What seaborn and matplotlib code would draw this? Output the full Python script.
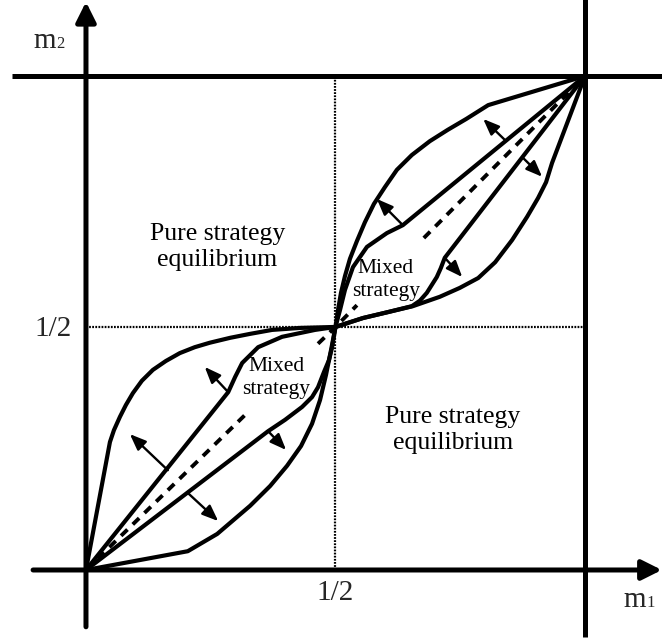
import numpy as np
import pandas as pd
import matplotlib
matplotlib.use("Agg")
import matplotlib.pyplot as plt
import seaborn as sns

sns.set_style("white")
plt.rcParams['font.family'] = ['Liberation Serif', 'DejaVu Serif']

# ---------------- data (m1, m2 in [0,1]) ----------------
half_x = 0.5
half_y = 0.492

ur_outer_upper_u = [0.5, 0.505, 0.511, 0.519, 0.529, 0.543, 0.559, 0.577, 0.599, 0.623, 0.653,
                    0.689, 0.725, 0.762, 0.806, 1.0]
ur_outer_upper_v = [0.492, 0.526, 0.561, 0.595, 0.630, 0.666, 0.704, 0.741, 0.775, 0.810, 0.840,
                    0.868, 0.891, 0.913, 0.941, 1.0]

ur_inner_upper_u = [0.5, 0.509, 0.519, 0.535, 0.563, 0.603, 0.635, 1.0]
ur_inner_upper_v = [0.492, 0.526, 0.567, 0.613, 0.654, 0.682, 0.698, 1.0]

ur_outer_lower_u = [0.5, 0.555, 0.605, 0.655, 0.709, 0.749, 0.786, 0.820, 0.854, 0.884, 0.906, 0.922, 0.934, 1.0]
ur_outer_lower_v = [0.492, 0.510, 0.522, 0.534, 0.553, 0.571, 0.591, 0.623, 0.668, 0.715, 0.753, 0.785, 0.824, 1.0]

ur_inner_lower_u = [0.5, 0.555, 0.605, 0.653, 0.669, 0.683, 0.703, 0.711, 0.719, 1.0]
ur_inner_lower_v = [0.492, 0.510, 0.522, 0.534, 0.545, 0.561, 0.593, 0.611, 0.632, 1.0]

ll_outer_upper_u = [0.0, 0.048, 0.056, 0.068, 0.080, 0.094, 0.112, 0.134, 0.160, 0.188, 0.218,
                    0.248, 0.289, 0.329, 0.373, 0.429, 0.5]
ll_outer_upper_v = [0.0, 0.259, 0.283, 0.310, 0.334, 0.358, 0.383, 0.405, 0.423, 0.439, 0.451,
                    0.460, 0.470, 0.478, 0.486, 0.490, 0.492]

ll_inner_upper_u = [0.0, 0.285, 0.299, 0.313, 0.345, 0.393, 0.459, 0.5]
ll_inner_upper_v = [0.0, 0.360, 0.391, 0.419, 0.451, 0.472, 0.486, 0.492]

ll_outer_lower_u = [0.0, 0.204, 0.263, 0.329, 0.369, 0.403, 0.431, 0.453, 0.469, 0.481, 0.491, 0.5]
ll_outer_lower_v = [0.0, 0.038, 0.073, 0.130, 0.170, 0.211, 0.251, 0.296, 0.344, 0.395, 0.445, 0.492]

ll_inner_lower_u = [0.0, 0.365, 0.399, 0.433, 0.453, 0.465, 0.477, 0.487, 0.493, 0.5]
ll_inner_lower_v = [0.0, 0.281, 0.304, 0.330, 0.350, 0.370, 0.401, 0.425, 0.450, 0.492]

# visible pieces of the dashed 45-degree line
diag_seg_u = [[0.0, 0.323], [0.465, 0.5, 0.543], [0.677, 1.0]]
diag_seg_v = [[0.0, 0.318], [0.458, 0.492, 0.536], [0.672, 1.0]]

# small direction arrows (tail -> tip)
arrow_tail_u = [0.635, 0.840, 0.719, 0.876, 0.285, 0.164, 0.365, 0.204]
arrow_tail_v = [0.698, 0.870, 0.632, 0.834, 0.360, 0.202, 0.281, 0.156]
arrow_tip_u = [0.583, 0.796, 0.754, 0.914, 0.238, 0.088, 0.401, 0.265]
arrow_tip_v = [0.751, 0.913, 0.593, 0.796, 0.411, 0.275, 0.243, 0.099]

region_labels = ["Pure strategy\nequilibrium", "Pure strategy\nequilibrium",
                 "Mixed\nstrategy", "Mixed\nstrategy"]
region_u = [0.263, 0.735, 0.601, 0.381]
region_v = [0.654, 0.283, 0.587, 0.389]
region_size = [18.5, 18.5, 15.5, 15.5]

tick_label = "1/2"

# ---------------- figure ----------------
fig = plt.figure(figsize=(6.62, 6.39), dpi=100)
ax = fig.add_axes([0, 0, 1, 1])
ax.set_xlim(-0.1723, 1.1543)
ax.set_ylim(-0.1397, 1.1538)
ax.axis('off')

# frame lines
ax.plot([-0.148, 1.16], [1.0, 1.0], color='black', lw=3.6, solid_capstyle='butt', zorder=5)
ax.plot([1.0, 1.0], [-0.136, 1.16], color='black', lw=3.6, solid_capstyle='butt', zorder=5)
# axes with arrows
ax.annotate('', xy=(1.154, 0.0), xytext=(-0.106, 0.0),
            arrowprops=dict(arrowstyle='-|>,head_length=0.6,head_width=0.3', lw=3.6,
                            color='black', mutation_scale=20, shrinkA=0, shrinkB=0), zorder=5)
ax.annotate('', xy=(0.0, 1.150), xytext=(0.0, -0.115),
            arrowprops=dict(arrowstyle='-|>,head_length=0.6,head_width=0.3', lw=3.6,
                            color='black', mutation_scale=20, shrinkA=0, shrinkB=0), zorder=5)

# dotted half lines
ax.plot([half_x, half_x], [0, 1], color='black', lw=1.6, ls=(0, (0.8, 0.6)), zorder=1)
ax.plot([0, 1], [half_y, half_y], color='black', lw=1.6, ls=(0, (0.8, 0.6)), zorder=1)

# dashed diagonal
for su, sv in zip(diag_seg_u, diag_seg_v):
    ax.plot(su, sv, color='black', lw=2.8, dashes=(2.3, 1.9), zorder=2)

# curves
curves = {
    'ur_outer_upper': (ur_outer_upper_u, ur_outer_upper_v),
    'ur_inner_upper': (ur_inner_upper_u, ur_inner_upper_v),
    'ur_outer_lower': (ur_outer_lower_u, ur_outer_lower_v),
    'ur_inner_lower': (ur_inner_lower_u, ur_inner_lower_v),
    'll_outer_upper': (ll_outer_upper_u, ll_outer_upper_v),
    'll_inner_upper': (ll_inner_upper_u, ll_inner_upper_v),
    'll_outer_lower': (ll_outer_lower_u, ll_outer_lower_v),
    'll_inner_lower': (ll_inner_lower_u, ll_inner_lower_v),
}
rows = []
for name, (us, vs) in curves.items():
    for i, (u, v) in enumerate(zip(us, vs)):
        rows.append({'curve': name, 'order': i, 'm1': u, 'm2': v})
df = pd.DataFrame(rows)
sns.lineplot(data=df, x='m1', y='m2', units='curve', estimator=None, sort=False,
             color='black', lw=3.0, ax=ax, legend=False, zorder=4,
             solid_joinstyle='round', solid_capstyle='round')

# small arrows
for tu, tv, hu, hv in zip(arrow_tail_u, arrow_tail_v, arrow_tip_u, arrow_tip_v):
    ax.annotate('', xy=(hu, hv), xytext=(tu, tv),
                arrowprops=dict(arrowstyle='-|>,head_length=0.75,head_width=0.3', lw=1.7,
                                color='black', mutation_scale=13, shrinkA=0, shrinkB=0),
                zorder=4)

# region labels
for lab, u, v, s in zip(region_labels, region_u, region_v, region_size):
    ax.text(u, v, lab, ha='center', va='center', fontsize=s, color='black',
            linespacing=1.25, zorder=3)

# tick labels and axis labels (m with small baseline subscript)
ax.text(-0.028, 0.473, tick_label, ha='right', va='baseline', fontsize=21)
ax.text(half_x, -0.061, tick_label, ha='center', va='baseline', fontsize=21)
ax.text(1.078, -0.075, "m", ha='left', va='baseline', fontsize=21)
ax.text(1.124, -0.075, "1", ha='left', va='baseline', fontsize=12)
ax.text(-0.106, 1.057, "m", ha='left', va='baseline', fontsize=21)
ax.text(-0.060, 1.057, "2", ha='left', va='baseline', fontsize=12)

fig.savefig("out.png", dpi=100)
